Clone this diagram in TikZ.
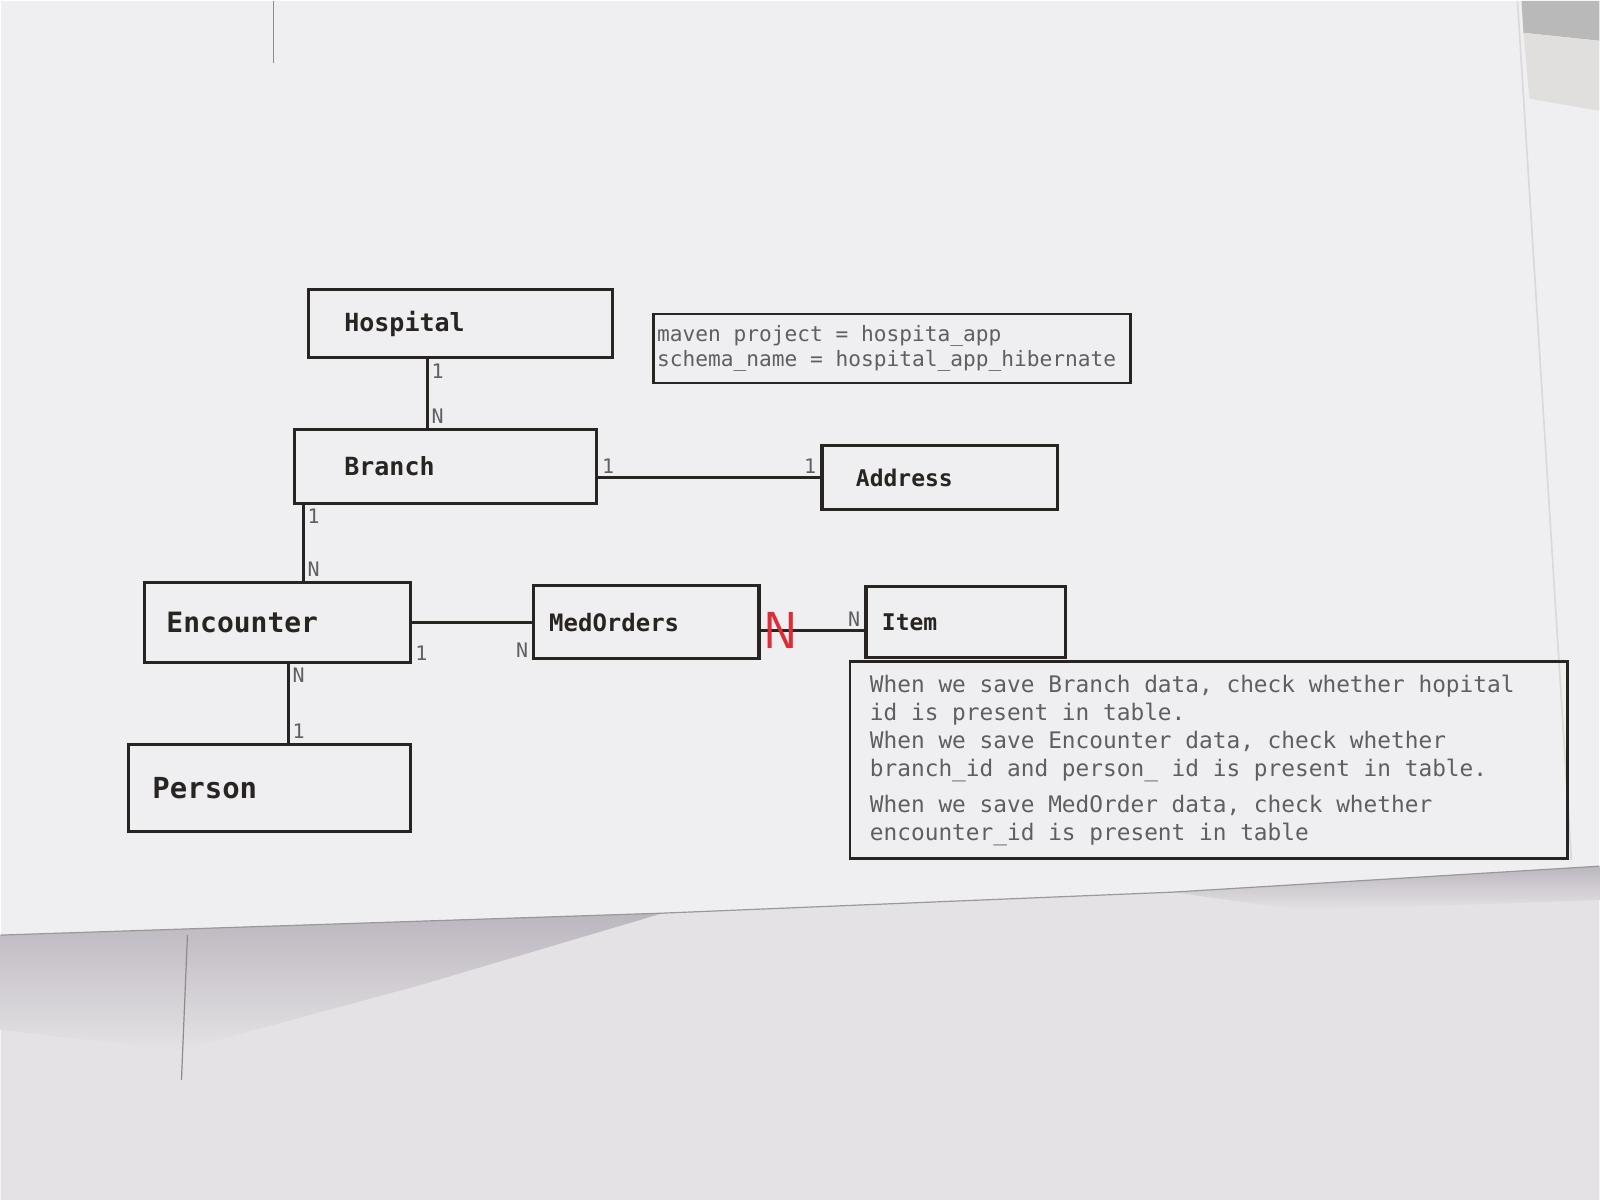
\documentclass[tikz,border=0pt]{standalone}
\usepackage{fontspec}
\setmonofont{DejaVu Sans Mono}
\newcommand\codefont[2]{\ttfamily\fontsize{#1}{#2}\selectfont}
\newcommand\fullspace{\spaceskip=\fontcharwd\font`M\relax}
\definecolor{ink}{RGB}{40,36,34}
\definecolor{faded}{RGB}{95,95,98}
\definecolor{paper}{RGB}{239,238,240}
\definecolor{under}{RGB}{228,226,229}
\definecolor{shadow}{RGB}{188,182,190}
\definecolor{pen}{RGB}{222,45,55}
\tikzset{
	entity/.style={draw=ink, line width=1.6pt, text=ink, align=left, font=\ttfamily\bfseries\fontsize{#1}{15}\selectfont},
	entity/.default=12.5,
	memo/.style={draw=ink, line width=1.4pt, text=faded, align=left, execute at begin node=\fullspace},
	card/.style={text=faded, inner sep=1.5pt, font=\ttfamily\fontsize{10}{12}\selectfont},
	redmark/.style={text=pen, inner sep=1pt, font=\sffamily\fontsize{26}{26}\selectfont},
	link/.style={draw=ink, line width=1.3pt},
}

\begin{document}
\begin{tikzpicture}[x=0.5pt, y=-0.5pt]
	\fill [paper] (0,0) rectangle (1600,1200);
	\fill [under] (0,935) -- (663,913) -- (1173,892) -- (1600,866) -- (1600,1200) -- (0,1200) -- cycle;
	\shade [top color=shadow, bottom color=under] (0,935) -- (663,913) -- (420,985) -- (180,1050) -- (0,1030) -- cycle;
	\shade [top color=shadow, bottom color=under] (1173,892) -- (1600,866) -- (1600,900) -- (1300,910) -- cycle;
	\draw [gray!80, line width=0.6pt] (0,935) -- (663,913) -- (1173,892) -- (1600,866);
	\draw [gray!90, line width=0.6pt] (273,0) -- (273,62);
	\draw [gray!90, line width=0.6pt] (187,935) -- (181,1080);
	\draw [gray!30, line width=0.8pt] (1518,0) -- (1572,860);
	\fill [gray!55] (1522,0) -- (1600,0) -- (1600,40) -- (1524,32) -- cycle;
	\fill [brown!12!gray!25] (1524,32) -- (1600,40) -- (1600,110) -- (1530,98) -- cycle;

	\node [entity, text width=116pt, inner xsep=18pt, minimum height=34pt] (hosp) at (460,323) {Hospital};
	\node [entity, text width=101pt, inner xsep=25pt, minimum height=37pt] (branch) at (445,466) {Branch};
	\node [entity=11.5, text width=84pt, inner xsep=17pt, minimum height=32pt] (addr) at (940,477) {Address};
	\node [entity=14, text width=111pt, inner xsep=11pt, minimum height=40pt] (enc) at (277,622) {Encounter};
	\node [entity=12, text width=97pt, inner xsep=8pt, minimum height=36.5pt] (med) at (646,622) {MedOrders};
	\node [entity=11.5, text width=84pt, inner xsep=8pt, minimum height=35.5pt] (item) at (966,622) {Item};
	\node [entity=14.5, text width=117pt, inner xsep=12pt, minimum height=43.5pt] (person) at (269,788) {Person};

	\node [memo, text width=235pt, inner xsep=2pt, minimum height=34.5pt, font=\codefont{10.6}{12.2}] (project) at (892,348)
		{maven project = hospita\_app\\schema\_name = hospital\_app\_hibernate};
	\node [memo, text width=339pt, inner xsep=10pt, minimum height=98.5pt, font=\codefont{11.4}{14}] (rules) at (1209,760)
		{When we save Branch data, check whether hopital\\
		id is present in table.\\
		When we save Encounter data, check whether\\
		branch\_id and person\_ id is present in table.\\[4pt]
		When we save MedOrder data, check whether\\
		encounter\_id is present in table};

	\draw [link] (hosp.south -| 427,0) -- node [card, pos=0, below right] {1} node [card, pos=1, above right] {N} (branch.north -| 427,0);
	\draw [link] (branch.south -| 303,0) -- node [card, pos=0, below right] {1} node [card, pos=1, above right] {N} (enc.north -| 303,0);
	\draw [link] (branch.east |- addr.west) -- node [card, pos=0, above right] {1} node [card, pos=1, above left] {1} (addr.west);
	\draw [link] (enc) -- (med);
	\node [card, anchor=south west] at (enc.south east) {1};
	\node [card, anchor=south east] at (med.south west) {N};
	\draw [link] (med.east |- 0,630) -- node [redmark, pos=0, right] {N} node [card, pos=1, above left] {N} (item.west |- 0,630);
	\draw [link] (enc.south -| 288,0) -- node [card, pos=0, below right] {N} node [card, pos=1, above right] {1} (person.north -| 288,0);
\end{tikzpicture}
\end{document}
